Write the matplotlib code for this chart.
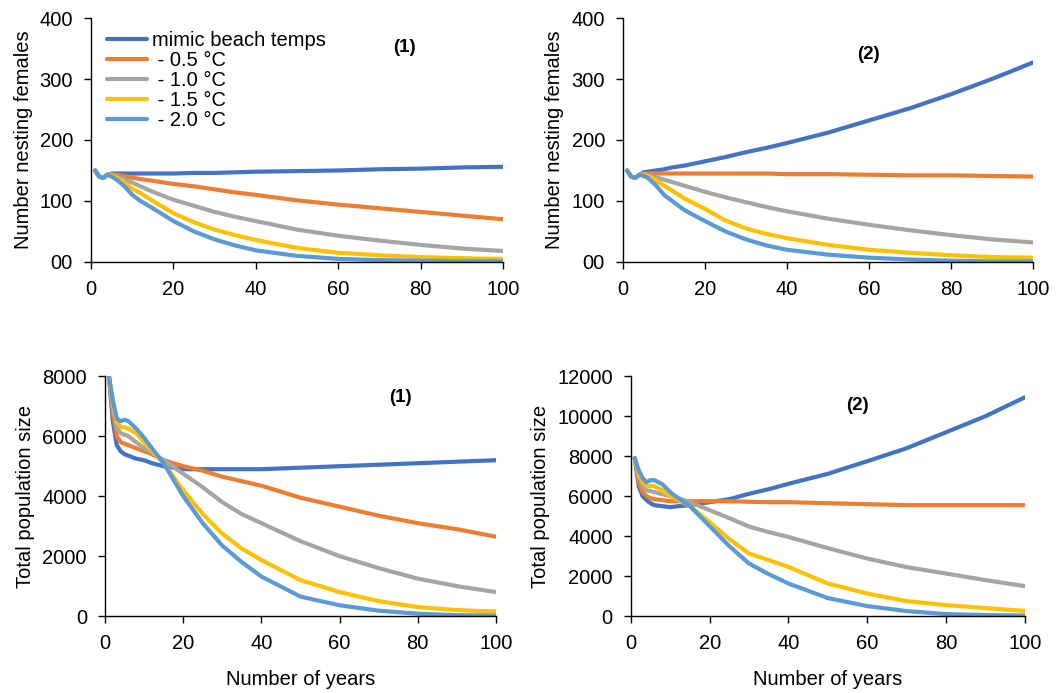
import matplotlib
matplotlib.use("Agg")
import matplotlib.pyplot as plt

plt.rcParams["font.family"] = ["Liberation Sans", "DejaVu Sans"]

SERIES = ["mimic beach temps", " - 0.5 °C", " - 1.0 °C", " - 1.5 °C", " - 2.0 °C"]
COLORS = ["#4472C4", "#ED7D31", "#A5A5A5", "#FFC000", "#5B9BD5"]

YEARS = [1, 2, 3, 4, 5, 6, 8, 10, 12, 15, 20, 25, 30, 35, 40, 50, 60, 70, 80, 90, 100]

# nesting females, scenario (1)
NEST_1 = [
    [150, 140, 138, 143, 145, 145, 145, 145, 145, 145, 145, 146, 146, 147, 148, 149, 150, 152, 153, 155, 156],
    [150, 140, 138, 143, 144, 143, 141, 138, 136, 133, 128, 124, 119, 114, 110, 101, 94, 88, 82, 76, 70],
    [150, 140, 138, 143, 143, 141, 136, 130, 124, 115, 102, 92, 82, 74, 67, 53, 43, 35, 28, 22, 18],
    [150, 140, 138, 143, 142, 139, 131, 120, 113, 100, 80, 65, 53, 44, 36, 23, 15, 11, 8, 6, 5],
    [150, 140, 138, 143, 140, 136, 125, 110, 100, 88, 67, 50, 37, 27, 19, 10, 5, 3, 2, 1, 1],
]

# nesting females, scenario (2)
NEST_2 = [
    [150, 140, 138, 143, 147, 148, 150, 152, 155, 158, 165, 172, 180, 187, 195, 212, 232, 252, 275, 300, 327],
    [150, 140, 138, 143, 145, 145, 145, 145, 145, 145, 145, 145, 145, 145, 144, 144, 143, 142, 142, 141, 140],
    [150, 140, 138, 143, 144, 143, 139, 135, 131, 125, 115, 106, 98, 90, 83, 71, 61, 52, 44, 37, 32],
    [150, 140, 138, 143, 143, 141, 134, 125, 117, 104, 87, 68, 55, 46, 39, 28, 20, 15, 11, 8, 7],
    [150, 140, 138, 143, 141, 138, 126, 110, 100, 85, 67, 50, 37, 27, 20, 12, 7, 4, 2, 1, 1],
]

# total population, scenario (1)
POP_1 = [
    [8000, 6500, 5700, 5500, 5400, 5350, 5250, 5200, 5100, 5000, 4900, 4900, 4900, 4900, 4900, 4950, 5000, 5050, 5100, 5150, 5200],
    [8000, 6800, 6000, 5800, 5750, 5700, 5600, 5500, 5400, 5200, 5000, 4850, 4650, 4500, 4350, 3950, 3650, 3350, 3100, 2900, 2650],
    [8000, 7000, 6300, 6100, 6050, 6000, 5800, 5600, 5450, 5200, 4750, 4300, 3800, 3400, 3100, 2500, 2000, 1600, 1250, 1000, 800],
    [8000, 7100, 6500, 6300, 6300, 6250, 6100, 5800, 5500, 5100, 4200, 3400, 2750, 2250, 1870, 1200, 800, 500, 300, 200, 150],
    [8000, 7200, 6600, 6500, 6550, 6500, 6250, 5950, 5600, 5100, 4000, 3100, 2350, 1800, 1320, 650, 360, 180, 80, 30, 20],
]

# total population, scenario (2)
POP_2 = [
    [7900, 6500, 6000, 5800, 5650, 5550, 5500, 5450, 5500, 5550, 5700, 5850, 6120, 6350, 6620, 7120, 7750, 8400, 9200, 10000, 10950],
    [7900, 6700, 6200, 6000, 5900, 5850, 5800, 5750, 5750, 5750, 5750, 5750, 5720, 5700, 5700, 5650, 5600, 5550, 5550, 5550, 5550],
    [7900, 7000, 6500, 6300, 6250, 6200, 6100, 6000, 5900, 5700, 5300, 4900, 4480, 4200, 3960, 3400, 2880, 2450, 2130, 1800, 1500],
    [7900, 7100, 6700, 6500, 6500, 6500, 6300, 6000, 5800, 5500, 4700, 3850, 3130, 2800, 2460, 1630, 1130, 750, 550, 400, 260],
    [7900, 7300, 6900, 6700, 6800, 6800, 6600, 6200, 5900, 5500, 4500, 3500, 2630, 2100, 1630, 900, 500, 250, 100, 50, 30],
]

NEST_TICKS = [0, 100, 200, 300, 400]
NEST_TICK_LABELS = ["00", "100", "200", "300", "400"]
POP1_TICKS = [0, 2000, 4000, 6000, 8000]
POP2_TICKS = [0, 2000, 4000, 6000, 8000, 10000, 12000]
X_TICKS = [0, 20, 40, 60, 80, 100]

FS = 14.5


def style_axes(ax):
    for side in ("top", "right"):
        ax.spines[side].set_visible(False)
    for side in ("left", "bottom"):
        ax.spines[side].set_color("black")
        ax.spines[side].set_linewidth(1.0)
    ax.tick_params(direction="out", length=5, width=1, labelsize=FS, colors="black", pad=8)
    ax.set_xlim(0, 100)
    ax.set_xticks(X_TICKS)


def draw_lines(ax, data, with_labels=False):
    for name, color, vals in zip(SERIES, COLORS, data):
        ax.plot(YEARS, vals, color=color, linewidth=3.0, solid_capstyle="round",
                label=name if with_labels else None)


fig = plt.figure(figsize=(10.62, 6.93), dpi=100)

ax1 = fig.add_axes([0.0857, 0.622, 0.388, 0.352])
ax2 = fig.add_axes([0.5866, 0.622, 0.386, 0.352])
ax3 = fig.add_axes([0.0989, 0.111, 0.368, 0.346])
ax4 = fig.add_axes([0.594, 0.111, 0.371, 0.346])

draw_lines(ax1, NEST_1, with_labels=True)
draw_lines(ax2, NEST_2)
draw_lines(ax3, POP_1)
draw_lines(ax4, POP_2)

for ax in (ax1, ax2):
    style_axes(ax)
    ax.set_ylim(0, 400)
    ax.set_yticks(NEST_TICKS)
    ax.set_yticklabels(NEST_TICK_LABELS)
    ax.set_ylabel("Number nesting females", fontsize=FS, labelpad=5)

style_axes(ax3)
ax3.set_ylim(0, 8000)
ax3.set_yticks(POP1_TICKS)
style_axes(ax4)
ax4.set_ylim(0, 12000)
ax4.set_yticks(POP2_TICKS)
for ax in (ax3, ax4):
    ax.set_ylabel("Total population size", fontsize=FS, labelpad=5)
    ax.set_xlabel("Number of years", fontsize=FS, labelpad=12)

for ax, tag, x, y in ((ax1, "(1)", 0.76, 0.88), (ax2, "(2)", 0.60, 0.85),
                      (ax3, "(1)", 0.755, 0.91), (ax4, "(2)", 0.574, 0.88)):
    ax.text(x, y, tag, transform=ax.transAxes, fontsize=13.5, fontweight="bold",
            ha="center", va="center")

ax1.legend(loc="upper left", bbox_to_anchor=(0.038, 0.945), frameon=False, fontsize=FS,
           handlelength=2.0, handletextpad=0.25, labelspacing=0.05,
           borderaxespad=0, borderpad=0)

fig.savefig("out.png", dpi=100)
